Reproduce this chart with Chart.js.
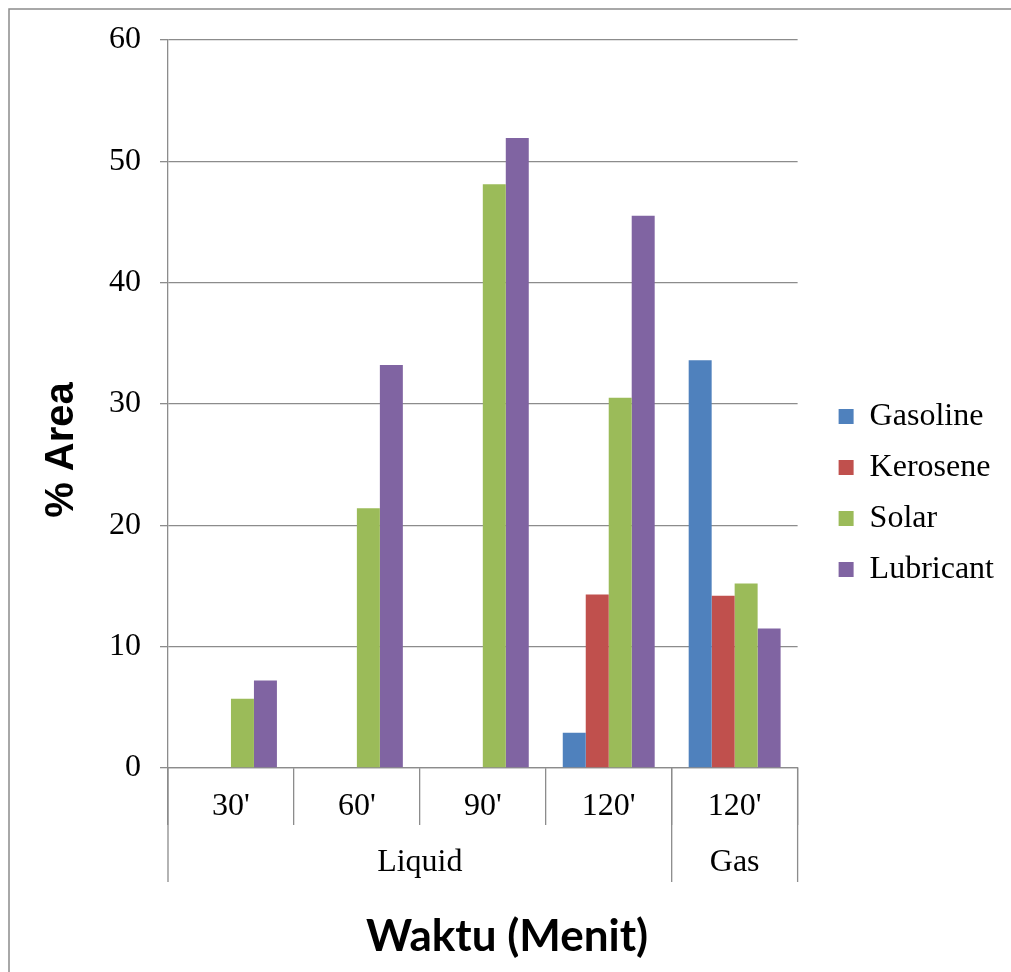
<!DOCTYPE html>
<html>
<head>
<meta charset="utf-8">
<title>% Area vs Waktu</title>
<script src="https://cdn.jsdelivr.net/npm/chart.js@4.4.1/dist/chart.umd.min.js"></script>
<style>
  html, body { margin: 0; padding: 0; background: #ffffff; }
  canvas { display: block; }
</style>
</head>
<body>
<canvas id="c" width="1011" height="972"></canvas>
<script>
// Time categories (first axis level) and their phase groups (second axis level)
const categories = ["30'", "60'", "90'", "120'", "120'"];
const groupLabels = ['Liquid', 'Gas'];
const groupSpans = [4, 1];

// % area per fraction
const gasoline  = [null, null, null, 2.9, 33.6];
const kerosene  = [null, null, null, 14.3, 14.2];
const solar     = [5.7, 21.4, 48.1, 30.5, 15.2];
const lubricant = [7.2, 33.2, 51.9, 45.5, 11.5];

const yTicks = [0, 10, 20, 30, 40, 50, 60];

const GRID = '#8c8c8c';
const SERIF = "'Liberation Serif', 'Times New Roman', serif";

// Frame, second-level category labels, group dividers and axis titles
const decorations = {
  id: 'decorations',
  afterDraw(chart) {
    const { ctx, chartArea, scales } = chart;
    const x = scales.x;
    ctx.save();

    // outer frame
    ctx.strokeStyle = GRID;
    ctx.lineWidth = 1.5;
    ctx.strokeRect(9, 9, 1200, 1200);

    // group dividers and group labels
    const half = (x.getPixelForValue(1) - x.getPixelForValue(0)) / 2;
    let start = 0;
    ctx.lineWidth = 1.3;
    ctx.fillStyle = '#000';
    ctx.font = '32px ' + SERIF;
    ctx.textAlign = 'center';
    ctx.textBaseline = 'middle';
    const edges = [x.getPixelForValue(0) - half];
    groupLabels.forEach((label, i) => {
      const end = start + groupSpans[i] - 1;
      const left = x.getPixelForValue(start) - half;
      const right = x.getPixelForValue(end) + half;
      edges.push(right);
      ctx.fillText(label, (left + right) / 2, chartArea.bottom + 95);
      start = end + 1;
    });
    ctx.beginPath();
    edges.forEach(px => {
      ctx.moveTo(px, chartArea.bottom);
      ctx.lineTo(px, chartArea.bottom + 114);
    });
    ctx.stroke();

    // value axis title
    ctx.save();
    ctx.translate(62, 450);
    ctx.rotate(-Math.PI / 2);
    ctx.font = "bold 40px 'Liberation Sans', Arial, sans-serif";
    ctx.fillText('% Area', 0, 0);
    ctx.restore();

    // time axis title
    ctx.font = "bold 44px Lato, 'Open Sans', sans-serif";
    ctx.fillText('Waktu (Menit)', 507, 937);

    ctx.restore();
  }
};

new Chart(document.getElementById('c'), {
  type: 'bar',
  data: {
    labels: categories,
    datasets: [
      { label: 'Gasoline',  data: gasoline,  backgroundColor: '#4F81BD' },
      { label: 'Kerosene',  data: kerosene,  backgroundColor: '#C0504D' },
      { label: 'Solar',     data: solar,     backgroundColor: '#9BBB59' },
      { label: 'Lubricant', data: lubricant, backgroundColor: '#8064A2' }
    ]
  },
  options: {
    responsive: false,
    animation: false,
    devicePixelRatio: 1,
    categoryPercentage: 0.73,
    barPercentage: 1.0,
    layout: { padding: { left: 0, top: 14, right: 7, bottom: 0 } },
    plugins: {
      tooltip: { enabled: false },
      legend: {
        position: 'right',
        maxWidth: 300,
        labels: {
          boxWidth: 15,
          boxHeight: 15,
          padding: 19,
          color: '#000',
          font: { family: SERIF, size: 32 }
        }
      }
    },
    scales: {
      x: {
        grid: {
          offset: true,
          drawOnChartArea: false,
          drawTicks: true,
          tickLength: 57,
          color: GRID,
          lineWidth: 1.3
        },
        border: { display: true, color: GRID, width: 1.3 },
        ticks: {
          color: '#000',
          padding: -38,
          font: { family: SERIF, size: 32 }
        },
        afterFit(scale) { scale.height = 204; }
      },
      y: {
        min: 0,
        max: 60,
        afterBuildTicks(scale) { scale.ticks = yTicks.map(v => ({ value: v })); },
        grid: { color: GRID, lineWidth: 1.3, tickLength: 8 },
        border: { display: true, color: GRID, width: 1.3 },
        ticks: {
          color: '#000',
          padding: 19,
          font: { family: SERIF, size: 32, lineHeight: 1.3 }
        },
        afterFit(scale) { scale.width = 168; }
      },
      // keeps a gap between the plot and the legend
      gap: {
        type: 'linear',
        position: 'right',
        display: true,
        grid: { display: false },
        border: { display: false },
        ticks: { display: false },
        afterFit(scale) { scale.width = 22; }
      }
    }
  },
  plugins: [decorations]
});
</script>
</body>
</html>
